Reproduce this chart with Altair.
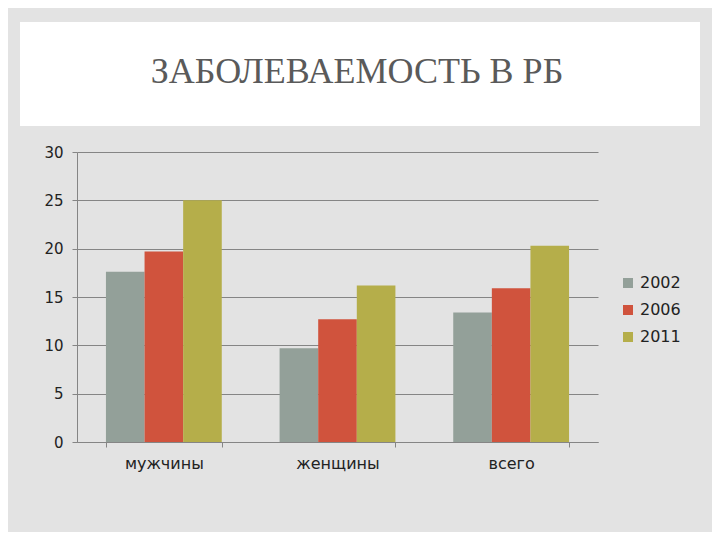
import altair as alt
import pandas as pd

categories = ["мужчины", "женщины", "всего"]
years = ["2002", "2006", "2011"]
values_2002 = [17.6, 9.7, 13.4]
values_2006 = [19.7, 12.7, 15.9]
values_2011 = [25.0, 16.2, 20.3]
colors = ["#93a099", "#d0533d", "#b5ae4a"]
title_text = "ЗАБОЛЕВАЕМОСТЬ В РБ"

rows = []
for yr, vals in zip(years, [values_2002, values_2006, values_2011]):
    for c, v in zip(categories, vals):
        rows.append({"cat": c, "year": yr, "value": v})
df = pd.DataFrame(rows)

FONT = "DejaVu Sans"

bars = alt.Chart(df).mark_bar().encode(
    x=alt.X("cat:N", sort=categories, title=None,
            scale=alt.Scale(paddingInner=0.333, paddingOuter=0.1667),
            axis=alt.Axis(labelAngle=0, labelFont=FONT, labelFontSize=16,
                          labelColor="#222222", labelPadding=8,
                          domainColor="#858585", tickColor="#858585",
                          tickSize=5, tickBand="extent", grid=False)),
    xOffset=alt.XOffset("year:N", sort=years,
                        scale=alt.Scale(paddingInner=0, paddingOuter=0)),
    y=alt.Y("value:Q", title=None,
            scale=alt.Scale(domain=[0, 30], nice=False),
            axis=alt.Axis(values=[0, 5, 10, 15, 20, 25, 30], labelFont=FONT,
                          labelFontSize=15, labelColor="#222222", labelPadding=9,
                          domainColor="#858585", tickColor="#858585", tickSize=5,
                          gridColor="#858585", gridWidth=1)),
    color=alt.Color("year:N", sort=years, title=None,
                    scale=alt.Scale(domain=years, range=colors),
                    legend=alt.Legend(orient="none", legendX=543, legendY=123,
                                      symbolType="square", symbolSize=100,
                                      symbolStrokeWidth=0,
                                      labelFont=FONT, labelFontSize=16,
                                      labelColor="#222222", rowPadding=11,
                                      labelOffset=4)),
)

title_df = pd.DataFrame({"t": [title_text]})
box = alt.Chart(title_df).mark_rect(color="white").encode(
    x=alt.value(-57), x2=alt.value(623), y=alt.value(-130), y2=alt.value(-26)
)
title = alt.Chart(title_df).mark_text(
    font="Liberation Serif", fontSize=36, color="#5a5a5a", baseline="middle",
    align="center"
).encode(text="t:N", x=alt.value(280), y=alt.value(-80))

chart = alt.layer(box, title, bars).properties(
    width=521, height=290,
    autosize=alt.AutoSizeParams(type="none"),
    padding={"left": 69, "top": 144, "right": 114, "bottom": 90},
    background="#e3e3e3",
).configure_view(stroke=None)

chart.save("out.html", embed_options={"renderer": "svg", "actions": False})
